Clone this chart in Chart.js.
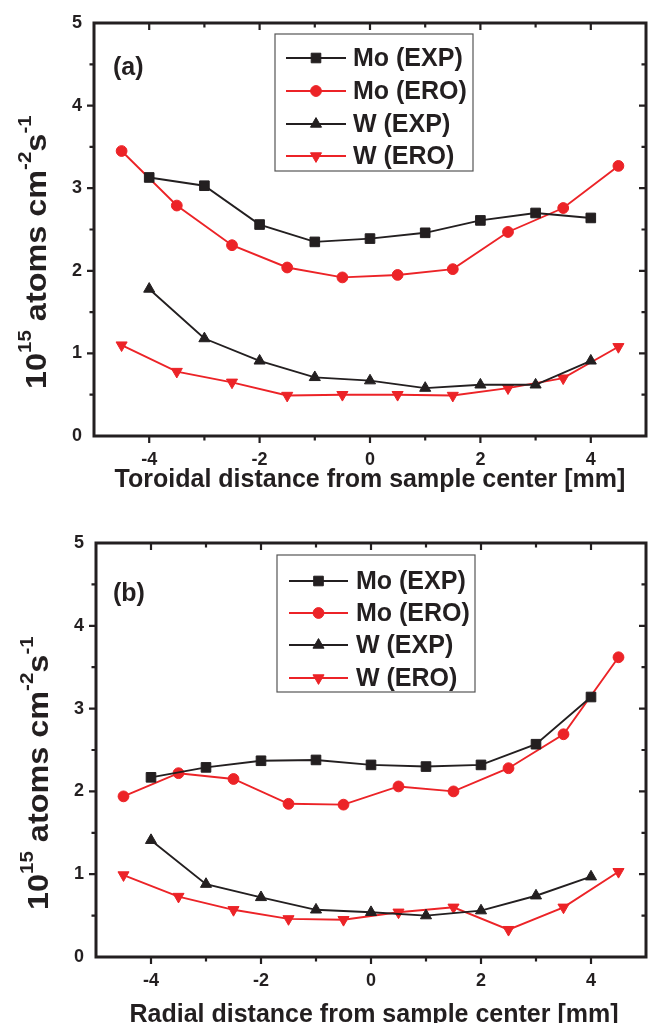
<!DOCTYPE html>
<html>
<head>
<meta charset="utf-8">
<script src="https://cdn.jsdelivr.net/npm/chart.js@4.4.0/dist/chart.umd.min.js"></script>
<style>
    html, body { margin: 0; padding: 0; background: #fff; }
    #wrap { position: relative; width: 659px; height: 1023px; overflow: hidden; }
    .panel { position: absolute; left: 0; width: 659px; }
</style>
</head>
<body>
<div id="wrap">
    <div class="panel" style="top:0;height:510px"><canvas id="chartA" width="659" height="510"></canvas></div>
    <div class="panel" style="top:510px;height:513px"><canvas id="chartB" width="659" height="513"></canvas></div>
</div>
<script>
// positions along the sample (mm)
const posExp = [-4, -3, -2, -1, 0, 1, 2, 3, 4];
const posEro = [-4.5, -3.5, -2.5, -1.5, -0.5, 0.5, 1.5, 2.5, 3.5, 4.5];

// (a) toroidal
const moExpA = [3.13, 3.03, 2.56, 2.35, 2.39, 2.46, 2.61, 2.70, 2.64];
const moEroA = [3.45, 2.79, 2.31, 2.04, 1.92, 1.95, 2.02, 2.47, 2.76, 3.27];
const wExpA  = [1.78, 1.18, 0.91, 0.71, 0.67, 0.58, 0.62, 0.62, 0.91];
const wEroA  = [1.10, 0.78, 0.65, 0.49, 0.50, 0.50, 0.49, 0.58, 0.70, 1.08];

// (b) radial
const moExpB = [2.17, 2.29, 2.37, 2.38, 2.32, 2.30, 2.32, 2.57, 3.14];
const moEroB = [1.94, 2.22, 2.15, 1.85, 1.84, 2.06, 2.00, 2.28, 2.69, 3.62];
const wExpB  = [1.41, 0.88, 0.72, 0.57, 0.54, 0.50, 0.56, 0.74, 0.97];
const wEroB  = [0.99, 0.73, 0.57, 0.46, 0.45, 0.54, 0.60, 0.33, 0.60, 1.03];

const seriesNames = ['Mo (EXP)', 'Mo (ERO)', 'W (EXP)', 'W (ERO)'];
const xTickLabels = [-4, -2, 0, 2, 4];
const yTickLabels = [0, 1, 2, 3, 4, 5];

const INK = '#231f20';
const RED = '#ec2327';
const FONT = 'Arial, "Liberation Sans", Helvetica, sans-serif';

function pts(xs, ys) {
    return xs.map(function (x, i) { return { x: x, y: ys[i] }; });
}

function makeDatasets(moExp, moEro, wExp, wEro) {
    const base = { borderWidth: 1.9, pointBorderWidth: 1, pointHoverRadius: 0 };
    return [
        Object.assign({ label: seriesNames[0], data: pts(posExp, moExp), borderColor: INK, backgroundColor: INK,
            pointStyle: 'rect', pointRadius: 6.8, pointRotation: 0 }, base),
        Object.assign({ label: seriesNames[1], data: pts(posEro, moEro), borderColor: RED, backgroundColor: RED,
            pointStyle: 'circle', pointRadius: 5.4, pointRotation: 0 }, base),
        Object.assign({ label: seriesNames[2], data: pts(posExp, wExp), borderColor: INK, backgroundColor: INK,
            pointStyle: 'triangle', pointRadius: 6.4, pointRotation: 0 }, base),
        Object.assign({ label: seriesNames[3], data: pts(posEro, wEro), borderColor: RED, backgroundColor: RED,
            pointStyle: 'triangle', pointRadius: 6.4, pointRotation: 180 }, base)
    ];
}

// frame, mirrored ticks, titles, panel label and boxed legend
const decorPlugin = {
    id: 'decor',
    afterDraw: function (chart, args, opts) {
        const ctx = chart.ctx;
        const a = chart.chartArea;
        const xs = chart.scales.x, ys = chart.scales.y;
        ctx.save();
        ctx.strokeStyle = INK;
        ctx.lineWidth = 2.2;
        for (let v = -4; v <= 4; v++) {
            const px = xs.getPixelForValue(v);
            const len = v % 2 === 0 ? 7 : 4.5;
            ctx.beginPath();
            ctx.moveTo(px, a.bottom); ctx.lineTo(px, a.bottom + len);
            ctx.moveTo(px, a.top); ctx.lineTo(px, a.top + len);
            ctx.stroke();
        }
        for (let v = 0.5; v < 5; v += 0.5) {
            const py = ys.getPixelForValue(v);
            const len = Number.isInteger(v) ? 7 : 4.5;
            ctx.beginPath();
            ctx.moveTo(a.left, py); ctx.lineTo(a.left - len, py);
            ctx.moveTo(a.right, py); ctx.lineTo(a.right - len, py);
            ctx.stroke();
        }
        ctx.lineWidth = 3;
        ctx.strokeRect(a.left, a.top, a.right - a.left, a.bottom - a.top);

        ctx.fillStyle = INK;
        ctx.textBaseline = 'alphabetic';
        // x title
        ctx.font = 'bold 25px ' + FONT;
        ctx.textAlign = 'center';
        ctx.fillText(opts.xTitle, opts.xTitleX, opts.xTitleY);
        // panel label
        ctx.textAlign = 'left';
        ctx.font = 'bold 25px ' + FONT;
        ctx.fillText(opts.tag, opts.tagX, opts.tagY);

        // y title with superscripts
        const parts = [['10', 0], ['15', 1], [' atoms cm', 0], ['-2', 1], ['s', 0], ['-1', 1]];
        ctx.translate(opts.yTitleX, opts.yTitleY);
        ctx.rotate(-Math.PI / 2);
        ctx.scale(1.08, 1);
        let cx = 0;
        parts.forEach(function (p) {
            ctx.font = p[1] ? 'bold 19px ' + FONT : 'bold 30px ' + FONT;
            ctx.fillText(p[0], cx, p[1] ? -15 : 0);
            cx += ctx.measureText(p[0]).width;
        });
        ctx.restore();

        // legend box
        const L = opts.legend;
        ctx.save();
        ctx.fillStyle = '#fff';
        ctx.fillRect(L.x, L.y, L.w, L.h);
        ctx.strokeStyle = '#555';
        ctx.lineWidth = 1.2;
        ctx.strokeRect(L.x, L.y, L.w, L.h);
        chart.data.datasets.forEach(function (ds, i) {
            const ry = L.rows[i];
            ctx.strokeStyle = ds.borderColor;
            ctx.lineWidth = ds.borderWidth;
            ctx.beginPath();
            ctx.moveTo(L.lineX0, ry); ctx.lineTo(L.lineX1, ry);
            ctx.stroke();
            ctx.fillStyle = ds.backgroundColor;
            ctx.lineWidth = 1;
            Chart.helpers.drawPoint(ctx, {
                pointStyle: ds.pointStyle, rotation: ds.pointRotation,
                radius: ds.pointRadius, borderWidth: 1
            }, (L.lineX0 + L.lineX1) / 2, ry);
            ctx.fillStyle = INK;
            ctx.font = 'bold 25px ' + FONT;
            ctx.textBaseline = 'middle';
            ctx.textAlign = 'left';
            ctx.fillText(ds.label, L.textX, ry + 1);
        });
        ctx.restore();
    }
};

function makeChart(id, datasets, yWidth, xHeight, padding, decor) {
    return new Chart(document.getElementById(id).getContext('2d'), {
        type: 'line',
        data: { datasets: datasets },
        options: {
            responsive: false,
            animation: false,
            layout: { padding: padding },
            plugins: { legend: { display: false }, tooltip: { enabled: false }, decor: decor },
            scales: {
                x: {
                    type: 'linear', min: -5, max: 5,
                    grid: { display: false, drawTicks: false },
                    border: { display: false },
                    ticks: {
                        stepSize: 1, autoSkip: false, maxRotation: 0, padding: 13, color: INK,
                        font: { family: FONT, size: 18, weight: 'bold' },
                        callback: function (v) { return xTickLabels.indexOf(v) >= 0 ? String(v) : ''; }
                    },
                    afterFit: function (s) { s.height = xHeight; }
                },
                y: {
                    min: 0, max: 5,
                    grid: { display: false, drawTicks: false },
                    border: { display: false },
                    ticks: {
                        stepSize: 1, padding: 12, color: INK,
                        font: { family: FONT, size: 18, weight: 'bold' },
                        callback: function (v) { return yTickLabels.indexOf(v) >= 0 ? String(v) : ''; }
                    },
                    afterFit: function (s) { s.width = yWidth; }
                }
            }
        },
        plugins: [decorPlugin]
    });
}

makeChart('chartA', makeDatasets(moExpA, moEroA, wExpA, wEroA), 94, 74,
    { top: 23, right: 6, left: 0, bottom: 0 },
    {
        xTitle: 'Toroidal distance from sample center [mm]', xTitleX: 370, xTitleY: 487,
        tag: '(a)', tagX: 113, tagY: 75,
        yTitleX: 46, yTitleY: 389,
        legend: { x: 275, y: 34, w: 198, h: 137, rows: [58, 91, 124, 156], lineX0: 286, lineX1: 346, textX: 353 }
    });

makeChart('chartB', makeDatasets(moExpB, moEroB, wExpB, wEroB), 96, 66,
    { top: 33, right: 4, left: 0, bottom: 0 },
    {
        xTitle: 'Radial distance from sample center [mm]', xTitleX: 374, xTitleY: 512,
        tag: '(b)', tagX: 113, tagY: 91,
        yTitleX: 48, yTitleY: 400,
        legend: { x: 277, y: 45, w: 198, h: 137, rows: [71, 103, 135, 168], lineX0: 289, lineX1: 348, textX: 356 }
    });
</script>
</body>
</html>
